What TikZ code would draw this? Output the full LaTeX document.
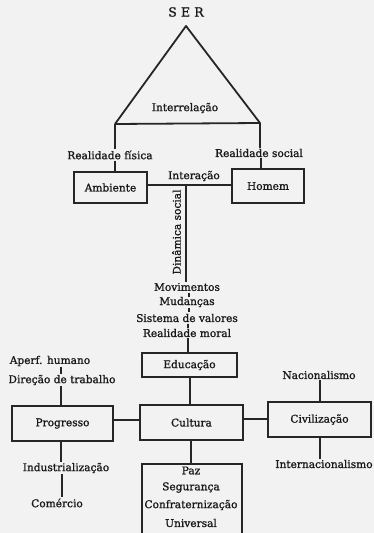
\documentclass[tikz,border=0pt]{standalone}
\usepackage{fontspec}
\setmainfont{DejaVu Serif}[BoldFont={DejaVu Serif}, BoldFeatures={FakeBold=1.2}]
\begin{document}
\begin{tikzpicture}[x=1pt,y=-1pt,
  every node/.style={font=\fontsize{10.6}{12}\selectfont\bfseries, text=black!90, inner sep=1pt},
  ln/.style={draw=black!85, line width=1.8pt},
  bx/.style={draw=black!85, line width=1.8pt, minimum width=#1, minimum height=33pt, inner sep=0pt}]
\useasboundingbox (0,0) rectangle (374,533);
\fill[black!5] (0,0) rectangle (374,533);
% top
\node (ser) at (186,12) {\fontsize{12.5}{14}\selectfont S\,\,E\,\,R};
\coordinate (apex) at (186,26);
\coordinate (bl) at (115,124);
\coordinate (br) at (260,123);
\draw[ln, line join=round] (bl) -- (apex) -- (br) -- (bl);
\node (inter) at (185,108) {Interrelação};
\node (rf) at (110,155) {Realidade física};
\node (rs) at (259,153) {Realidade social};
\draw[ln] (bl) -- (bl |- rf.north);
\draw[ln] (br) -- (br |- rs.north);
% boxes
\node[bx=73pt, minimum height=31pt] (amb) at (110.5,187.5) {Ambiente};
\node[bx=72pt, minimum height=34pt] (hom) at (268,186) {Homem};
\draw[ln] (rf.south -| bl) -- (amb.north -| bl);
\coordinate (rsx) at (261,0);
\draw[ln] (rs.south -| rsx) -- (hom.north -| rsx);
\coordinate (mid) at (186,185);
\draw[ln] (amb.east |- mid) -- (hom.west |- mid);
\node (int) at (194,176) {Interação};
\node (mov) at (187,287) {Movimentos};
\draw[ln] (mid) -- (mov.north -| mid);
\node[rotate=90] (din) at (176.5,232) {Dinâmica social};
\node (mud) at (187,302) {Mudanças};
\node (sis) at (187,318) {Sistema de valores};
\node (rm) at (187,333) {Realidade moral};
\draw[ln, line width=1.3pt] (189,292.5) -- (189,296.5);
\draw[ln, line width=1.3pt] (189,308) -- (189,312);
\draw[ln, line width=1.3pt] (188,323.5) -- (188,327.5);
% middle
\node[bx=95pt, minimum height=24pt] (edu) at (189.5,365) {Educação};
\coordinate (ex) at (188,0);
\draw[ln] (rm.south -| ex) -- (edu.north -| ex);
\node[bx=103pt, minimum height=35pt] (cul) at (191.5,422.5) {Cultura};
\node[bx=101pt, minimum height=35pt] (pro) at (62.5,423.5) {Progresso};
\node[bx=103pt, minimum height=35pt] (civ) at (319.5,419.5) {Civilização};
\coordinate (cx) at (190,0);
\draw[ln] (edu.south -| cx) -- (cul.north -| cx);
\coordinate (py) at (0,420);
\coordinate (cy) at (0,419);
\draw[ln] (pro.east |- py) -- (cul.west |- py);
\draw[ln] (cul.east |- cy) -- (civ.west |- cy);
% left
\node (ap) at (50,361) {Aperf. humano};
\node (dt) at (62,380) {Direção de trabalho};
\coordinate (lx) at (61,0);
\draw[ln] (ap.south -| lx) -- (dt.north -| lx);
\draw[ln] (dt.south -| lx) -- (pro.north -| lx);
\node (ind) at (66,468) {Industrialização};
\node (com) at (57,503) {Comércio};
\draw[ln] (pro.south -| lx) -- (ind.north -| lx);
\coordinate (lx2) at (62,0);
\draw[ln] (ind.south -| lx2) -- (com.north -| lx2);
% right
\node (nac) at (319,375) {Nacionalismo};
\node (intn) at (324,464) {Internacionalismo};
\coordinate (rx) at (320,0);
\draw[ln] (nac.south -| rx) -- (civ.north -| rx);
\draw[ln] (civ.south -| rx) -- (intn.north -| rx);
% bottom
\coordinate (bx1) at (191,0);
\coordinate (btop) at (0,464);
\draw[ln] (cul.south -| bx1) -- (btop -| bx1);
\draw[ln] (142,534) -- (142,464) -- (242,464) -- (242,534);
\node (paz) at (191,470.5) {Paz};
\node (seg) at (191,487.5) {Segurança};
\node (con) at (191,505) {Confraternização};
\node (uni) at (191,523) {Universal};
\end{tikzpicture}
\end{document}
